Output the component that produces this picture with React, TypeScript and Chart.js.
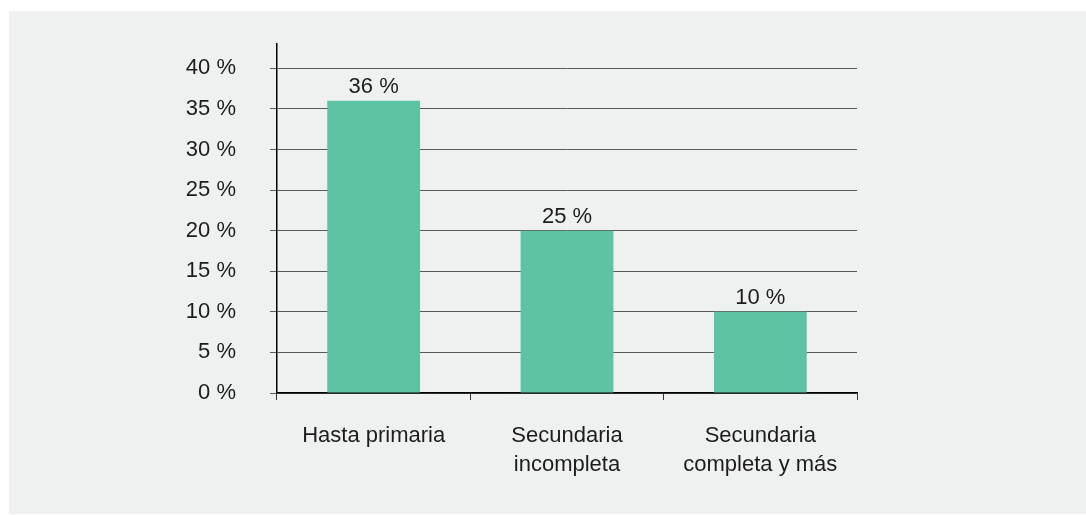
import React, { useEffect, useRef } from "react";
import { Chart, registerables } from "chart.js";

Chart.register(...registerables);

const categories: (string | string[])[] = [
  "Hasta primaria",
  ["Secundaria", "incompleta"],
  ["Secundaria", "completa y más"],
];
const values = [36, 20, 10];
const valueLabels = ["36 %", "25 %", "10 %"];
const yTickValues = [0, 5, 10, 15, 20, 25, 30, 35, 40];

const FONT = "'Liberation Sans', Arial, sans-serif";
const TEXT = "#1c1c1c";

const dataLabelPlugin = {
  id: "dataLabels",
  afterDatasetsDraw(chart: any) {
    const ctx = chart.ctx;
    const meta = chart.getDatasetMeta(0);
    ctx.save();
    ctx.font = `22px ${FONT}`;
    ctx.fillStyle = TEXT;
    ctx.textAlign = "center";
    ctx.textBaseline = "alphabetic";
    meta.data.forEach((el: any, i: number) => {
      ctx.fillText(valueLabels[i], el.x, el.y - 8);
    });
    ctx.restore();
  },
};

export default function App() {
  const ref = useRef<HTMLCanvasElement>(null);
  useEffect(() => {
    if (!ref.current) return;
    const chart = new Chart(ref.current, {
      type: "bar",
      data: {
        labels: categories,
        datasets: [
          {
            data: values,
            backgroundColor: "#5dc3a4",
            borderWidth: 0,
            barPercentage: 0.48,
            categoryPercentage: 1,
          },
        ],
      },
      options: {
        responsive: false,
        animation: false,
        devicePixelRatio: 1,
        layout: { padding: { left: 0, top: 33, right: 229, bottom: 0 } },
        plugins: {
          legend: { display: false },
          tooltip: { enabled: false },
        },
        scales: {
          x: {
            offset: true,
            grid: {
              offset: true,
              drawOnChartArea: false,
              drawTicks: true,
              tickLength: 7,
              color: "#333",
            },
            border: { color: "#000", width: 1.5 },
            ticks: {
              color: TEXT,
              font: { family: FONT, size: 22, lineHeight: 1.32 },
              padding: 21,
              maxRotation: 0,
              autoSkip: false,
            },
            afterFit(scale: any) {
              scale.height = 121;
              scale.paddingLeft = 0;
              scale.paddingRight = 0;
            },
          },
          y: {
            min: 0,
            max: 43,
            afterBuildTicks(scale: any) {
              scale.ticks = yTickValues.map((v) => ({ value: v }));
            },
            grid: {
              color: "#5a5a5a",
              lineWidth: 1,
              tickLength: 7,
            },
            border: { color: "#000", width: 1.5 },
            ticks: {
              color: TEXT,
              font: { family: FONT, size: 22 },
              padding: 34,
              callback: (v: any) => `${v} %`,
            },
            afterFit(scale: any) {
              scale.width = 268;
              scale.paddingTop = 0;
              scale.paddingBottom = 0;
            },
          },
        },
      },
      plugins: [dataLabelPlugin],
    });
    return () => chart.destroy();
  }, []);

  return (
    <div
      style={{
        position: "absolute",
        left: 9,
        top: 11,
        width: 1077,
        height: 503,
        background: "#eff1f0",
      }}
    >
      <canvas ref={ref} width={1077} height={503} style={{ display: "block" }} />
    </div>
  );
}
